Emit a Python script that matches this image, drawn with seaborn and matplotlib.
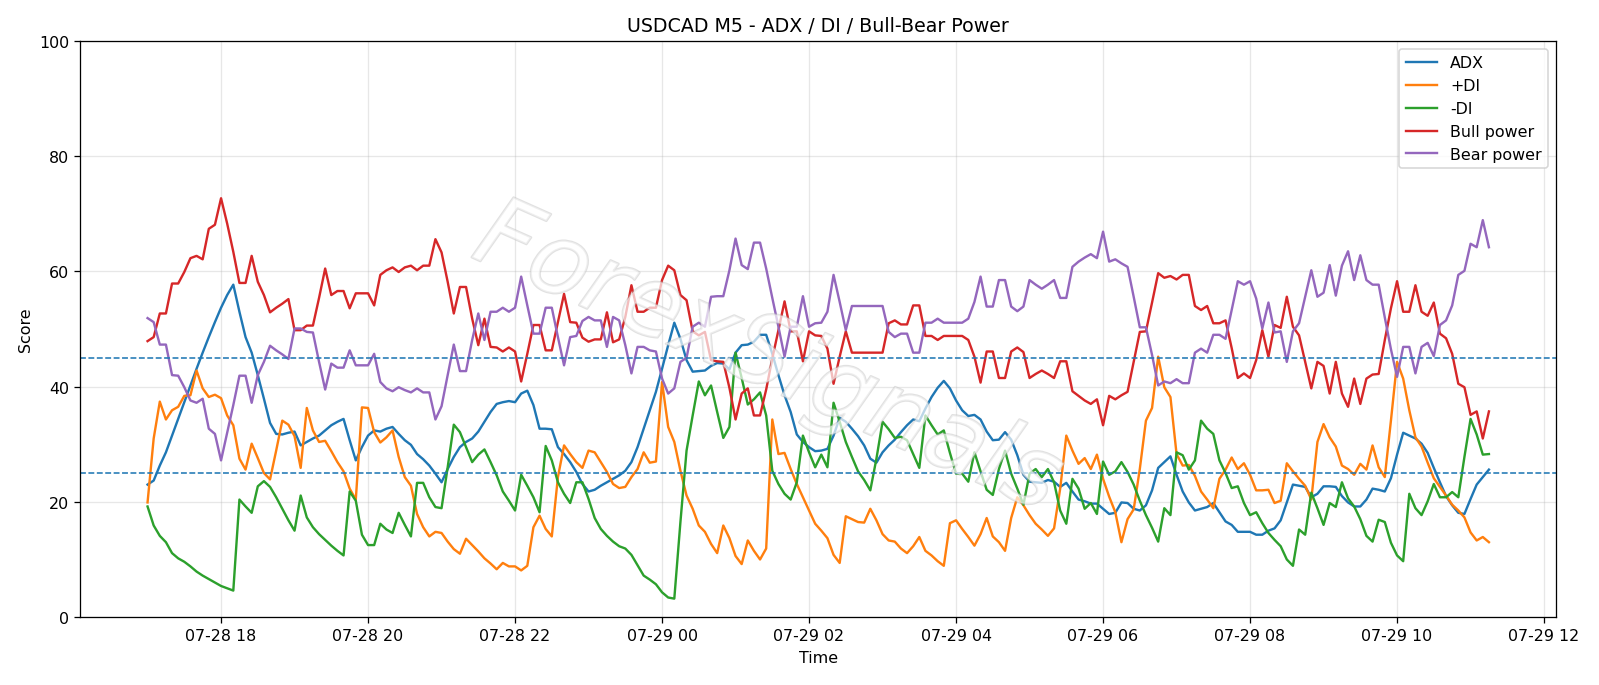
import matplotlib
matplotlib.use('Agg')
import matplotlib.pyplot as plt
import matplotlib.dates as mdates
import matplotlib.patheffects as pe
import numpy as np
import pandas as pd
import seaborn as sns

# 5 minute bars, 07-28 17:00 -> 07-29 11:15
times = pd.date_range('2025-07-28 17:00', periods=220, freq='5min')

adx = [
    23.0, 23.7, 26.3, 28.6, 31.5, 34.4, 37.3, 40.2, 43.1, 45.9, 48.6, 51.2, 53.7, 55.9, 57.7, 53.0, 48.6, 45.9, 42.0, 37.9,
    33.7, 31.8, 31.7, 32.0, 32.2, 29.8, 30.4, 31.0, 31.5, 32.4, 33.3, 33.9, 34.4, 30.7, 27.2, 29.5, 31.5, 32.4, 32.2, 32.7,
    33.0, 31.8, 30.7, 29.9, 28.3, 27.4, 26.3, 24.9, 23.4, 25.7, 27.8, 29.5, 30.4, 31.0, 32.2, 33.9, 35.6, 37.0, 37.3, 37.5,
    37.3, 38.8, 39.3, 36.8, 32.7, 32.7, 32.6, 29.5, 28.3, 26.9, 25.2, 23.1, 21.8, 22.1, 22.8, 23.4, 24.0, 24.6,
    25.4, 26.9, 29.5, 32.7, 35.9, 39.1, 43.1, 47.2, 51.1, 48.3, 44.6, 42.6, 42.7, 42.8, 43.6, 44.1, 44.0, 43.0, 45.9, 47.2,
    47.3, 47.8, 49.0, 49.0, 45.7, 42.0, 38.5, 35.6, 31.7, 30.4, 29.5, 28.8, 28.9, 29.2, 31.5, 34.6, 33.9, 32.7, 31.4,
    29.8, 27.5, 26.8, 28.6, 29.8, 30.8, 32.1, 33.3, 34.3, 34.0, 36.2, 38.2, 39.8, 41.0, 39.7, 37.6, 35.9, 34.9, 35.1, 34.3,
    32.2, 30.7, 30.8, 32.1, 30.8, 28.1, 24.7, 23.5, 23.4, 23.3, 23.8, 23.5, 22.6, 23.3, 21.8, 20.4, 20.1, 19.7, 19.7,
    18.8, 17.9, 18.1, 19.9, 19.8, 18.8, 18.5, 19.4, 22.0, 25.9, 26.9, 27.9, 24.7, 21.8, 19.9, 18.5, 18.8, 19.1, 19.8, 18.2,
    16.6, 16.0, 14.8, 14.8, 14.8, 14.3, 14.3, 15.0, 15.4, 16.8, 19.9, 23.0, 22.8, 22.6, 20.8, 21.4, 22.7, 22.7,
    22.6, 21.0, 19.9, 19.2, 19.2, 20.4, 22.3, 22.1, 21.8, 24.1, 28.2, 32.0, 31.5, 31.0, 30.1, 28.5, 25.9, 23.4, 21.0, 19.4,
    18.1, 17.9, 20.5, 23.0, 24.3, 25.6,
]

plus_di = [
    19.9, 31.0, 37.4, 34.3, 35.9, 36.5, 38.4, 38.5, 42.8, 39.7, 38.2, 38.6, 38.0, 35.0, 33.3, 27.5, 25.6, 30.1, 27.6, 25.0,
    23.9, 28.9, 34.1, 33.4, 31.4, 25.9, 36.3, 32.4, 30.4, 30.6, 28.8, 26.9, 25.3, 22.3, 20.4, 36.4, 36.3, 32.1, 30.3, 31.2,
    32.4, 27.8, 24.3, 22.8, 17.9, 15.6, 14.0, 14.8, 14.6, 13.1, 11.8, 11.0, 13.6, 12.5, 11.4, 10.2, 9.3, 8.3, 9.4, 8.8,
    8.8, 8.1, 8.9, 15.6, 17.6, 15.3, 14.0, 24.3, 29.8, 28.3, 26.9, 25.9, 28.9, 28.6, 26.9, 25.2, 23.1, 22.4,
    22.6, 24.3, 25.7, 28.6, 26.8, 27.0, 40.8, 33.0, 30.4, 25.4, 21.1, 18.8, 15.9, 14.8, 12.7, 11.1, 15.9, 13.7, 10.6, 9.2,
    13.3, 11.5, 10.0, 11.9, 34.3, 28.3, 28.5, 25.7, 23.1, 20.8, 18.5, 16.2, 15.0, 13.7, 10.8, 9.4, 17.5, 17.0, 16.5,
    16.4, 18.8, 16.8, 14.4, 13.3, 13.1, 11.9, 11.1, 12.3, 13.9, 11.5, 10.7, 9.7, 8.9, 16.3, 16.8, 15.3, 13.9, 12.4, 14.4,
    17.2, 14.0, 13.0, 11.5, 17.2, 20.8, 19.4, 17.7, 16.2, 15.2, 14.1, 15.4, 22.3, 31.5, 28.9, 26.6, 27.6, 25.7, 28.2,
    24.0, 20.9, 18.2, 13.0, 17.0, 18.7, 25.7, 34.1, 36.3, 45.2, 39.9, 38.2, 28.3, 26.3, 26.4, 24.5, 21.8, 20.4, 18.9, 24.0,
    25.6, 27.7, 25.7, 26.7, 24.7, 22.0, 22.0, 22.1, 19.8, 20.2, 26.7, 25.3, 24.0, 22.8, 20.4, 30.4, 33.5, 31.2,
    29.6, 26.3, 25.7, 24.7, 26.6, 25.6, 29.8, 26.0, 24.3, 34.1, 44.3, 41.4, 35.9, 31.2, 29.6, 26.8, 24.1, 22.6, 21.1, 19.5,
    18.5, 17.3, 14.7, 13.3, 13.9, 13.0,
]

minus_di = [
    19.2, 15.9, 14.1, 13.0, 11.1, 10.2, 9.6, 8.8, 7.9, 7.2, 6.6, 6.0, 5.4, 5.0, 4.6, 20.4, 19.2, 18.1, 22.7, 23.6,
    22.6, 20.8, 18.8, 16.8, 15.0, 21.1, 17.3, 15.6, 14.4, 13.4, 12.4, 11.5, 10.7, 21.8, 20.2, 14.3, 12.5, 12.5, 16.2, 15.2,
    14.6, 18.1, 16.0, 14.0, 23.3, 23.3, 20.8, 19.1, 18.9, 26.0, 33.4, 32.1, 29.5, 26.9, 28.2, 29.1, 26.9, 24.6, 21.8, 20.2,
    18.5, 24.7, 22.8, 20.8, 18.2, 29.7, 27.2, 23.4, 21.4, 19.8, 23.4, 23.4, 20.5, 17.2, 15.3, 14.1, 13.1, 12.3,
    11.9, 10.8, 9.0, 7.2, 6.5, 5.7, 4.3, 3.4, 3.2, 16.5, 28.9, 35.0, 40.9, 38.5, 40.2, 35.6, 31.1, 33.0, 45.9, 41.5,
    36.9, 37.8, 39.0, 35.0, 25.4, 23.1, 21.4, 20.4, 23.4, 31.5, 28.6, 26.0, 28.2, 26.0, 37.2, 33.9, 30.4, 27.8, 25.3,
    23.8, 22.0, 27.5, 33.9, 32.6, 31.1, 31.3, 30.7, 28.3, 25.9, 35.0, 33.3, 31.7, 32.4, 28.5, 24.9, 24.9, 23.5, 28.6, 25.3,
    22.1, 21.2, 25.7, 28.9, 24.9, 22.3, 19.5, 24.9, 25.7, 24.3, 25.7, 23.4, 18.5, 16.2, 24.0, 22.3, 18.8, 19.8, 17.9,
    27.0, 24.7, 25.3, 26.9, 25.2, 23.0, 20.2, 17.7, 15.5, 13.1, 18.9, 17.7, 28.6, 28.1, 25.6, 27.2, 34.1, 32.7, 31.8, 27.2,
    25.0, 22.4, 22.7, 19.8, 17.7, 18.2, 16.3, 14.6, 13.4, 12.3, 10.0, 8.9, 15.2, 14.3, 21.6, 18.9, 16.0, 19.8,
    19.1, 23.4, 20.6, 19.2, 17.0, 14.1, 13.1, 16.9, 16.5, 12.9, 10.7, 9.7, 21.4, 18.9, 17.7, 20.1, 23.1, 20.8, 20.8, 21.7,
    20.8, 27.8, 34.4, 31.7, 28.2, 28.3,
]

bull_power = [
    47.9, 48.6, 52.7, 52.7, 57.9, 57.9, 59.9, 62.3, 62.7, 62.1, 67.4, 68.1, 72.7, 68.3, 63.4, 58.0, 58.0, 62.7, 58.2, 55.9,
    52.9, 53.7, 54.4, 55.2, 49.8, 49.8, 50.6, 50.6, 55.4, 60.5, 55.9, 56.6, 56.6, 53.6, 56.2, 56.2, 56.2, 54.1, 59.4, 60.2,
    60.7, 59.9, 60.7, 61.0, 60.2, 61.0, 61.0, 65.6, 63.3, 58.2, 52.7, 57.3, 57.3, 51.8, 47.2, 51.8, 46.9, 46.8, 46.1, 46.8,
    46.1, 40.9, 45.7, 50.7, 50.7, 46.3, 46.3, 51.2, 56.1, 51.2, 51.1, 48.5, 47.8, 48.2, 48.2, 52.9, 47.7, 48.2,
    52.1, 57.6, 53.0, 53.0, 53.7, 53.7, 58.5, 61.0, 60.2, 55.9, 55.0, 49.6, 48.9, 49.5, 44.6, 44.4, 44.3, 39.8, 34.3, 38.8,
    39.7, 35.0, 35.0, 39.5, 44.9, 49.8, 54.8, 49.6, 49.6, 44.4, 49.6, 48.9, 48.8, 46.6, 40.5, 45.2, 49.6, 45.9, 45.9,
    45.9, 45.9, 45.9, 45.9, 51.0, 51.5, 50.8, 50.8, 54.1, 54.1, 48.8, 48.8, 48.1, 48.8, 48.8, 48.8, 48.8, 48.1, 45.2, 40.7,
    46.1, 46.1, 41.5, 41.5, 46.1, 46.8, 46.0, 41.5, 42.2, 42.8, 42.2, 41.5, 44.4, 44.4, 39.2, 38.4, 37.6, 37.0, 37.8,
    33.3, 38.4, 37.8, 38.5, 39.1, 44.3, 49.5, 49.6, 54.6, 59.7, 58.9, 59.2, 58.6, 59.4, 59.4, 54.0, 53.3, 54.0, 51.0, 51.0,
    51.5, 46.7, 41.5, 42.3, 41.5, 44.6, 49.8, 45.2, 50.7, 50.2, 55.6, 50.4, 48.9, 44.3, 39.7, 44.3, 43.6, 38.8,
    44.3, 38.8, 36.5, 41.4, 37.0, 41.4, 42.1, 42.2, 48.1, 53.6, 58.3, 53.0, 53.0, 57.6, 53.0, 52.3, 54.6, 49.2, 48.4, 45.7,
    40.5, 39.9, 35.1, 35.7, 31.0, 35.7,
]

bear_power = [
    51.9, 51.2, 47.3, 47.3, 42.0, 41.9, 39.9, 37.6, 37.2, 37.9, 32.7, 31.8, 27.2, 32.0, 36.8, 41.9, 41.9, 37.2, 42.0, 44.3,
    47.1, 46.3, 45.6, 44.8, 50.1, 50.1, 49.5, 49.4, 44.3, 39.5, 44.0, 43.3, 43.3, 46.3, 43.7, 43.7, 43.7, 45.7, 40.8, 39.7,
    39.2, 39.9, 39.4, 39.0, 39.7, 39.0, 39.0, 34.3, 36.6, 42.0, 47.3, 42.7, 42.7, 48.1, 52.7, 48.1, 53.0, 53.0, 53.7, 53.0,
    53.7, 59.1, 54.1, 49.2, 49.2, 53.7, 53.7, 48.6, 43.7, 48.6, 48.8, 51.4, 52.1, 51.5, 51.5, 46.9, 52.1, 51.5,
    47.2, 42.3, 46.9, 46.9, 46.3, 46.1, 41.4, 38.8, 39.7, 44.3, 45.0, 50.4, 51.1, 50.4, 55.6, 55.7, 55.7, 60.2, 65.7, 61.1,
    60.4, 65.0, 65.0, 60.5, 55.4, 50.4, 45.2, 50.4, 50.4, 55.7, 50.4, 51.0, 51.1, 53.0, 59.4, 54.7, 49.8, 54.0, 54.0,
    54.0, 54.0, 54.0, 54.0, 49.5, 48.6, 49.2, 49.2, 45.9, 45.9, 51.1, 51.1, 51.8, 51.1, 51.1, 51.1, 51.1, 51.8, 54.7, 59.1,
    53.9, 53.9, 58.5, 58.5, 53.9, 53.1, 53.9, 58.5, 57.7, 57.0, 57.7, 58.5, 55.4, 55.4, 60.8, 61.7, 62.4, 63.0, 62.3,
    66.9, 61.7, 62.1, 61.4, 60.8, 55.6, 50.3, 50.3, 45.5, 40.2, 40.9, 40.6, 41.3, 40.6, 40.6, 45.9, 46.6, 45.9, 49.0, 49.0,
    48.3, 53.3, 58.3, 57.7, 58.3, 55.3, 50.1, 54.6, 49.4, 49.6, 44.3, 49.6, 51.0, 55.6, 60.2, 55.6, 56.3, 61.1,
    55.8, 61.0, 63.5, 58.5, 62.8, 58.5, 57.7, 57.7, 52.0, 46.5, 41.7, 46.9, 46.9, 42.3, 46.9, 47.6, 45.3, 50.7, 51.5, 54.1,
    59.4, 60.1, 64.8, 64.2, 68.9, 64.2,
]

series = {
    'ADX': adx,
    '+DI': plus_di,
    '-DI': minus_di,
    'Bull power': bull_power,
    'Bear power': bear_power,
}
colors = ['#1f77b4', '#ff7f0e', '#2ca02c', '#d62728', '#9467bd']

fig = plt.figure(figsize=(14, 6.0025), dpi=114.2857)
ax = fig.add_subplot(1, 1, 1)
fig.subplots_adjust(left=0.0503, right=0.9725, bottom=0.099, top=0.9388)

for (name, vals), c in zip(series.items(), colors):
    sns.lineplot(x=times, y=vals, ax=ax, label=name, color=c, linewidth=1.5)

ax.axhline(45, linestyle='--', linewidth=1.0, color='#1f77b4')
ax.axhline(25, linestyle='--', linewidth=1.0, color='#1f77b4')

ax.set_ylim(0, 100)
ax.xaxis.set_major_locator(mdates.HourLocator(byhour=range(0, 24, 2)))
ax.xaxis.set_major_formatter(mdates.DateFormatter('%m-%d %H'))
ax.grid(True, alpha=0.3)
ax.set_title('USDCAD M5 - ADX / DI / Bull-Bear Power')
ax.set_xlabel('Time')
ax.set_ylabel('Score')
ax.legend(loc='upper right')

# faint watermark across the middle
wm = fig.text(0.48, 0.475, 'ForexSignals', fontsize=62, fontstyle='italic',
              family=['Liberation Sans Narrow', 'DejaVu Sans'],
              rotation=-24, ha='center', va='center', color='white', alpha=0.45,
              zorder=10)
wm.set_path_effects([pe.withStroke(linewidth=1.4, foreground='#bdbdbd')])

fig.savefig('out.png', dpi=114.2857)
